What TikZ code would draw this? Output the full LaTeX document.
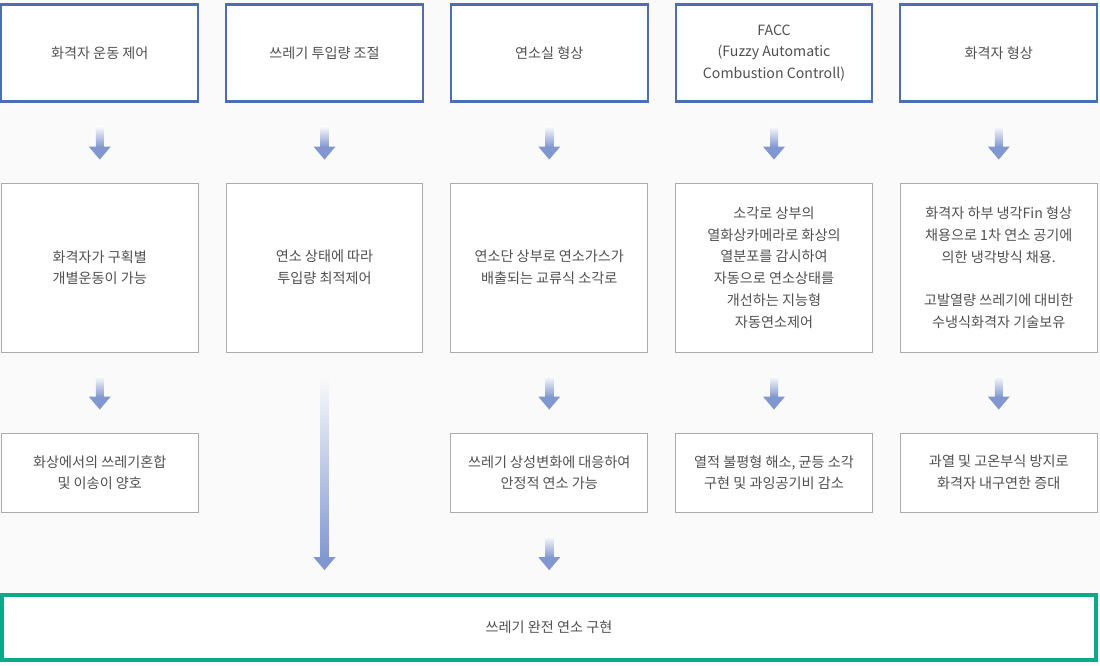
\documentclass[tikz,border=0pt]{standalone}
\usepackage{fontspec}
\setmainfont{Noto Sans CJK KR}
\usetikzlibrary{positioning,calc}
\definecolor{pagebg}{HTML}{FAFAFA}
\definecolor{topicblue}{HTML}{4C6FB4}
\definecolor{arrowblue}{HTML}{8197CF}
\definecolor{boxgray}{HTML}{ABABAB}
\definecolor{goalgreen}{HTML}{0AA98A}
\definecolor{textgray}{HTML}{505050}

% gradient arrow between two points (px units)
\newcommand{\flowarrow}[2]{%
  \path ($#1+(0,24)$) coordinate (fa-s) ($#2+(0,-23)$) coordinate (fa-e);
  \shade[top color=pagebg, bottom color=arrowblue] ($(fa-s)+(-4,0)$) rectangle ($(fa-e)+(4,-12.5)$);
  \fill[arrowblue] ($(fa-e)+(-11,-13)$) -- ($(fa-e)+(11,-13)$) -- (fa-e) -- cycle;
}

\begin{document}
\begin{tikzpicture}[
    x=0.75pt, y=-0.75pt,
    node distance=60pt,
    every node/.style={font=\fontsize{10.6pt}{16.3pt}\selectfont, text=textgray, align=center},
    topic/.style={draw=topicblue, line width=1.6pt, fill=white, minimum width=147.5pt, minimum height=72.75pt},
    detail/.style={draw=boxgray, line width=0.75pt, fill=white, minimum width=147.5pt, minimum height=126.75pt},
    effect/.style={draw=boxgray, line width=0.75pt, fill=white, minimum width=147.5pt, minimum height=59.25pt},
    goal/.style={draw=goalgreen, line width=2.8pt, fill=white, minimum width=820.5pt, minimum height=48.75pt}
]
    \fill[pagebg] (0,0) rectangle (1100,665);
    \useasboundingbox (0,0) rectangle (1100,665);

    % top row
    \node[topic] (t1) at (99.75,53) {화격자 운동 제어};
    \node[topic] (t2) at (324.5,53) {쓰레기 투입량 조절};
    \node[topic] (t3) at (549.25,53) {연소실 형상};
    \node[topic] (t4) at (774,53) {FACC\\(Fuzzy Automatic\\Combustion Controll)};
    \node[topic] (t5) at (998.75,53) {화격자 형상};

    % middle row
    \node[detail, below=of t1] (m1) {화격자가 구획별\\개별운동이 가능};
    \node[detail, below=of t2] (m2) {연소 상태에 따라\\투입량 최적제어};
    \node[detail, below=of t3] (m3) {연소단 상부로 연소가스가\\배출되는 교류식 소각로};
    \node[detail, below=of t4] (m4) {소각로 상부의\\열화상카메라로 화상의\\열분포를 감시하여\\자동으로 연소상태를\\개선하는 지능형\\자동연소제어};
    \node[detail, below=of t5] (m5) {화격자 하부 냉각Fin 형상\\채용으로 1차 연소 공기에\\의한 냉각방식 채용.\\[16.3pt]고발열량 쓰레기에 대비한\\수냉식화격자 기술보유};

    % bottom row
    \node[effect, below=of m1] (b1) {화상에서의 쓰레기혼합\\및 이송이 양호};
    \node[effect, below=of m3] (b3) {쓰레기 상성변화에 대응하여\\안정적 연소 가능};
    \node[effect, below=of m4] (b4) {열적 불평형 해소, 균등 소각\\구현 및 과잉공기비 감소};
    \node[effect, below=of m5] (b5) {과열 및 고온부식 방지로\\화격자 내구연한 증대};

    % result
    \node[goal] (goal) at (549,627.5) {쓰레기 완전 연소 구현};

    % arrows
    \foreach \a/\b in {t1/m1, t2/m2, t3/m3, t4/m4, t5/m5, m1/b1, m3/b3, m4/b4, m5/b5}
        \flowarrow{(\a.south)}{(\b.north)};
    \flowarrow{(m2.south)}{(m2 |- goal.north)};
    \flowarrow{(b3.south)}{(b3 |- goal.north)};
\end{tikzpicture}
\end{document}
